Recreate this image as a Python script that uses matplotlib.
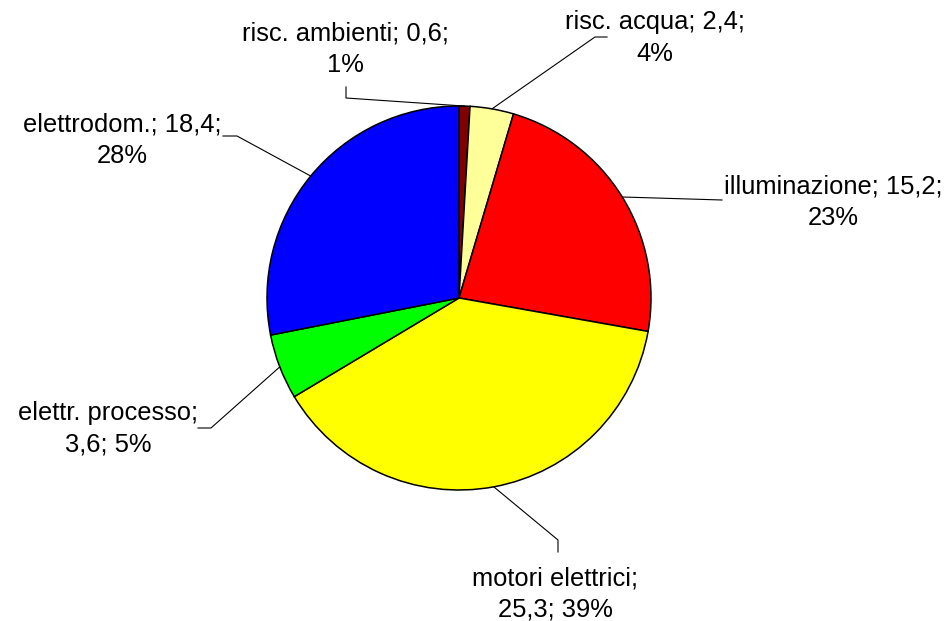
import numpy as np
import matplotlib.pyplot as plt

# Data
categories = ['risc. ambienti', 'risc. acqua', 'illuminazione',
              'motori elettrici', 'elettr. processo', 'elettrodom.']
values = [0.6, 2.4, 15.2, 25.3, 3.6, 18.4]
colors = ['#800000', '#FFFF99', '#FF0000', '#FFFF00', '#00FF00', '#0000FF']
# line break straight after the name (True) or after the value (False)
break_after_name = [False, False, False, True, True, False]

# Layout (pixel coordinates, y from top)
W, H = 952, 621
cx, cy, r = 459, 298, 192
text_pos = [(345, 49), (655, 38), (833, 202), (555, 594), (108, 429), (122, 140)]
leader_pts = [
    [(346, 98), (346, 87)],
    [(595, 37), (607, 37)],
    [(722, 200)],
    [(558, 540), (558, 552)],
    [(211, 428), (198, 428)],
    [(237, 136), (223, 136)],
]

plt.rcParams['font.family'] = ['Liberation Sans', 'DejaVu Sans']

fig = plt.figure(figsize=(W / 100, H / 100), dpi=100)
ax = fig.add_axes([0, 0, 1, 1])

wedges, _ = ax.pie(values, colors=colors, startangle=90, counterclock=False,
                   center=(cx, H - cy), radius=r, frame=False,
                   wedgeprops=dict(edgecolor='black', linewidth=1.1))
ax.set_xlim(0, W)
ax.set_ylim(0, H)
ax.set_aspect('equal')
ax.axis('off')

total = sum(values)
for w, name, v, brk, (tx, ty), pts in zip(wedges, categories, values,
                                           break_after_name, text_pos, leader_pts):
    mid = np.deg2rad((w.theta1 + w.theta2) / 2)
    x0 = cx + r * np.cos(mid)
    y0 = H - cy + r * np.sin(mid)
    xs = [x0] + [p[0] for p in pts]
    ys = [y0] + [H - p[1] for p in pts]
    ax.plot(xs, ys, color='black', linewidth=0.8)

    val = f'{v:.1f}'.replace('.', ',')
    pct = f'{round(v / total * 100):d}%'
    if brk:
        label = f'{name};\n{val}; {pct}'
    else:
        label = f'{name}; {val};\n{pct}'
    ax.text(tx, H - ty, label, ha='center', va='center', fontsize=18.4,
            linespacing=1.4)

fig.savefig('out.png', dpi=100)
